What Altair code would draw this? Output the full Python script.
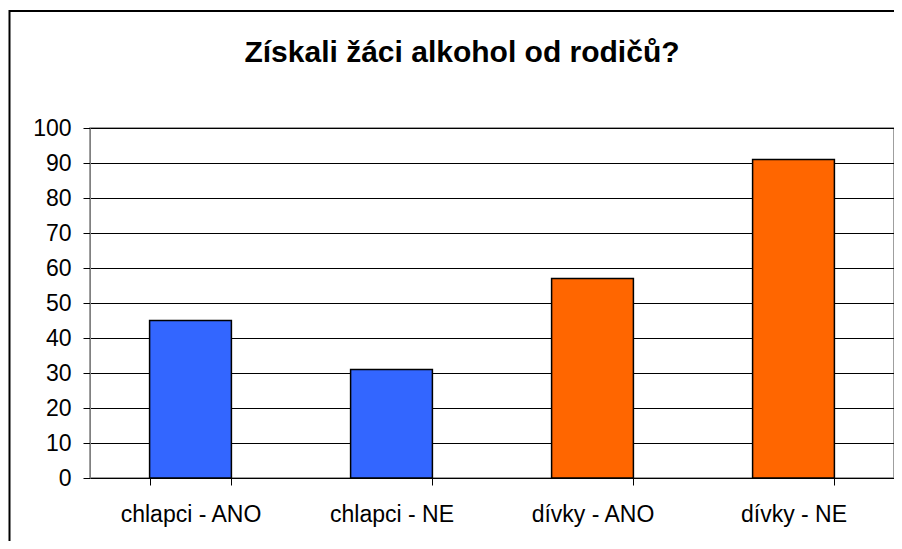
import altair as alt
import pandas as pd

categories = ["chlapci - ANO", "chlapci - NE", "dívky - ANO", "dívky - NE"]
values = [45, 31, 57, 91]
colors = ["#3366FF", "#3366FF", "#FF6600", "#FF6600"]
y_ticks = [0, 10, 20, 30, 40, 50, 60, 70, 80, 90, 100]
title_text = "Získali žáci alkohol od rodičů?"

df = pd.DataFrame({"kategorie": categories, "hodnota": values, "barva": colors})
title_df = pd.DataFrame({"nadpis": [title_text]})

FONT = "Liberation Sans"

bars = alt.Chart(df).mark_bar(stroke="#000000", strokeWidth=1.5).encode(
    x=alt.X(
        "kategorie:N",
        sort=categories,
        scale=alt.Scale(paddingInner=0.593, paddingOuter=0.2965),
        axis=alt.Axis(
            title=None,
            labelAngle=0,
            labelFont=FONT,
            labelFontSize=23,
            labelColor="#000000",
            labelPadding=18,
            tickBand="extent",
            tickSize=7,
            tickColor="#000000",
            domainColor="#000000",
            grid=False,
        ),
    ),
    y=alt.Y(
        "hodnota:Q",
        scale=alt.Scale(domain=[0, 100], nice=False),
        axis=alt.Axis(
            title=None,
            values=y_ticks,
            labelFont=FONT,
            labelFontSize=23,
            labelColor="#000000",
            labelPadding=12,
            tickSize=7,
            tickColor="#000000",
            domainColor="#808080",
            gridColor="#000000",
            gridWidth=1,
            gridOpacity=1,
        ),
    ),
    color=alt.Color("barva:N", scale=None, legend=None),
)

title_mark = alt.Chart(title_df).mark_text(
    font=FONT,
    fontSize=30,
    fontWeight="bold",
    color="#000000",
    align="center",
    baseline="alphabetic",
    clip=False,
).encode(
    text="nadpis:N",
    x=alt.value(372),
    y=alt.value(-66),
)

frame_top = alt.Chart(title_df).mark_rule(
    color="#000000", strokeWidth=2, clip=False
).encode(
    x=alt.value(-81),
    x2=alt.value(804),
    y=alt.value(-117),
)

frame_left = alt.Chart(title_df).mark_rule(
    color="#000000", strokeWidth=2, clip=False
).encode(
    x=alt.value(-80.5),
    y=alt.value(-118),
    y2=alt.value(500),
)

chart = (
    alt.layer(bars, title_mark, frame_top, frame_left)
    .properties(
        width=804,
        height=350,
        autosize=alt.AutoSizeParams(type="none"),
        padding={"left": 82, "top": 120, "right": 0, "bottom": 63},
        background="#FFFFFF",
    )
    .configure_view(stroke="#808080", strokeWidth=1.5)
)

chart.save("out.html", embed_options={"renderer": "svg", "actions": False})
